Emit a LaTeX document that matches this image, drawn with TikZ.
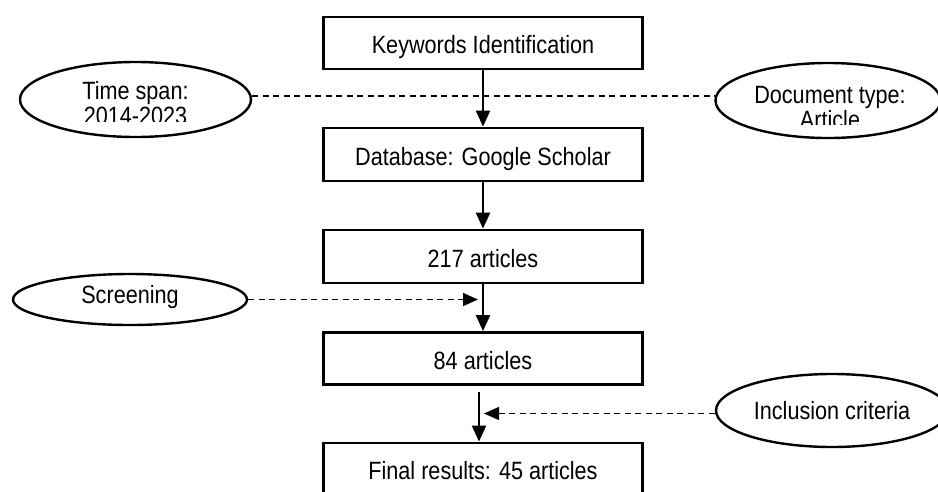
\documentclass[tikz,border=0pt]{standalone}
\usepackage{fontspec}
\setmainfont{Liberation Sans}[FakeStretch=0.865]
\usetikzlibrary{arrows.meta,shapes.geometric}
\begin{document}
\begin{tikzpicture}[x=1pt,y=-1pt,
  every node/.style={font=\fontsize{25}{25.5}\selectfont},
  stepbox/.style={draw, line width=2.8pt, minimum width=319pt, minimum height=52pt,
                  inner sep=0pt, text height=21pt, text depth=0pt},
  oval/.style={draw, ellipse, line width=2.4pt, inner sep=0pt},
  ovaltext/.style={anchor=north, inner sep=0pt, align=center},
  flow/.style={line width=2.2pt, -{Triangle[width=14pt,length=16pt]}},
  guide/.style={line width=1.3pt, dash pattern=on 6pt off 4.5pt},
  guidearrow/.style={guide, -{Triangle[width=13pt,length=15pt]}}
]
\useasboundingbox (0,0) rectangle (938,491);
\fill[white] (0,0) rectangle (938,491);
\clip (0,0) rectangle (938,491);

% main flow of the search
\node[stepbox] (kw) at (483,43) {Keywords Identification};
\node[stepbox, minimum height=53pt] (db) at (483,154.5) {Database: Google Scholar};
\node[stepbox, minimum height=53pt] (n217) at (483,256.5) {217 articles};
\node[stepbox] (n84) at (483,358.5) {84 articles};
\node[stepbox] (fin) at (483,469) {Final results: 45 articles};

\draw[flow] (kw.south) -- (db.north);
\draw[flow] (db.south) -- (n217.north);
\draw[flow] (n217.south) -- (n84.north);
\draw[flow] ([xshift=-4pt,yshift=-6pt]n84.south) -- ([xshift=-4pt]fin.north);

% side conditions
\node[oval, minimum width=231pt, minimum height=75pt] (ts) at (135.5,99.5) {};
\node[oval, minimum width=225pt, minimum height=75pt] (dt) at (828,100.5) {};
\node[oval, minimum width=234pt, minimum height=51pt,
      text height=17.5pt, text depth=10pt] (scr) at (130,299.5) {Screening};
\node[oval, minimum width=232pt, minimum height=73pt,
      text height=17.5pt, text depth=0pt] (inc) at (832,410.5) {Inclusion criteria};

% two-line labels, cut off at the bottom of their text frames
\begin{scope}
  \clip (0,0) rectangle (300,121);
  \node[ovaltext] (tstext) at (135.5,81) {Time span:\\2014-2023};
\end{scope}
\begin{scope}
  \clip (690,0) rectangle (938,124.5);
  \node[ovaltext] (dttext) at (830,86) {Document type:\\Article};
\end{scope}

% dashed links
\draw[guide] ([yshift=3.5pt]ts.east) -- ([yshift=3.5pt]ts.east -| dt.west);

\coordinate (scrtip) at ([xshift=-5pt]n217.south |- scr.east);
\draw[guidearrow] (scr.east) -- (scrtip);

\coordinate (inctip) at (484,413.5);
\draw[guidearrow] (inc.west |- inctip) -- (inctip);
\end{tikzpicture}
\end{document}
